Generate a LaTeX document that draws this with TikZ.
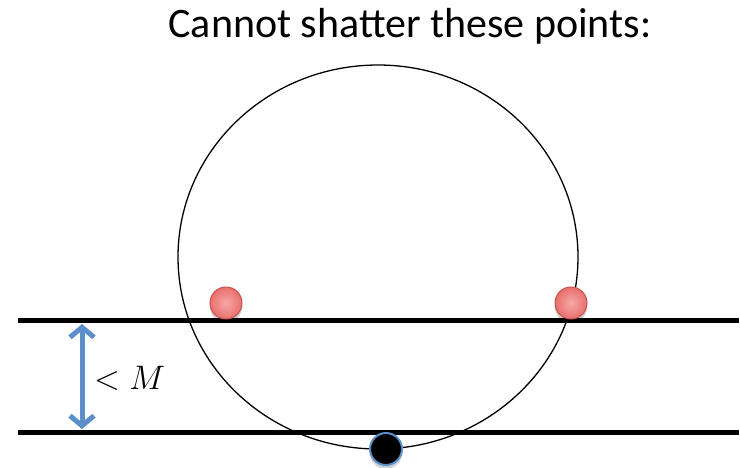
\documentclass[tikz,border=0pt]{standalone}
\usepackage{fix-cm}
\usepackage{fontspec}
\setmainfont{Carlito}
\usetikzlibrary{arrows.meta,shadows}
\definecolor{arrowblue}{HTML}{5B8FC9}
\definecolor{ballred}{HTML}{E8706E}
\definecolor{balledge}{HTML}{C8504D}
\definecolor{balllight}{HTML}{F7A8A6}
\tikzset{
  thickline/.style={line width=5pt},
  redball/.style={circle, minimum size=32pt, inner sep=0pt, draw=balledge, line width=1pt,
    inner color=balllight, outer color=ballred,
    drop shadow={shadow xshift=0pt, shadow yshift=-4pt, opacity=0.18, fill=black}},
  blackball/.style={circle, minimum size=32pt, inner sep=0pt, fill=black, draw=arrowblue, line width=2pt,
    drop shadow={shadow xshift=0pt, shadow yshift=-4pt, opacity=0.18, fill=black}},
  dblarrow/.style={line width=5pt, draw=arrowblue,
    {Straight Barb[length=10pt,width=24pt,line width=5pt]}-{Straight Barb[length=10pt,width=24pt,line width=5pt]}},
  titletext/.style={font=\fontsize{42}{48}\selectfont},
  mathtext/.style={font=\fontsize{34}{40}\selectfont}
}
\begin{document}
\begin{tikzpicture}[x=1pt,y=-1pt]
\useasboundingbox (0,0) rectangle (740,467);
\node[titletext, anchor=base, inner sep=0pt] (title) at (410,37) {Cannot shatter these points:};
\coordinate (c) at (378,257);
\draw[line width=1.3pt] (c) ellipse [x radius=200pt, y radius=192pt];
\coordinate (l1a) at (18,320);
\coordinate (l1b) at (739,320);
\coordinate (l2a) at (18,432);
\coordinate (l2b) at (739,432);
\draw[thickline] (l1a) -- (l1b);
\draw[thickline] (l2a) -- (l2b);
\node[redball] (p1) at (226,303) {};
\node[redball] (p2) at (571,303) {};
\node[blackball] (p3) at (386,449) {};
\coordinate (atop) at (82,324);
\coordinate (abot) at (82,429);
\draw[dblarrow] (atop) -- (abot);
\node[mathtext, anchor=west, inner sep=0pt] (lbl) at (94,378) {$<M$};
\end{tikzpicture}
\end{document}
